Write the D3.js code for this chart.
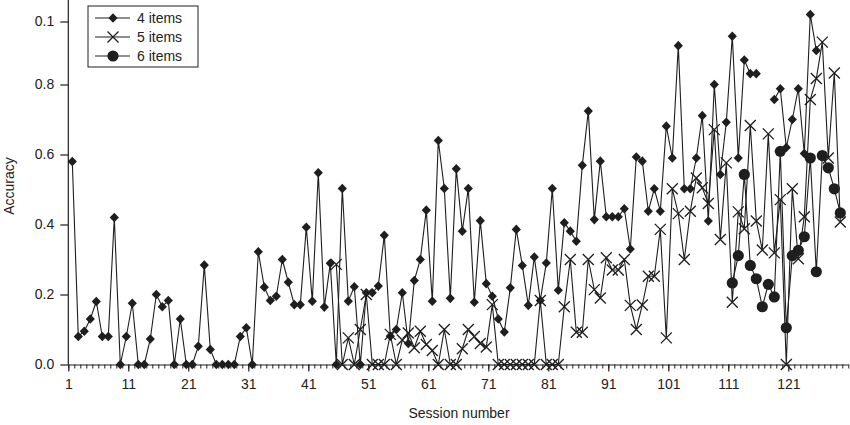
<!DOCTYPE html>
<html>
<head>
<meta charset="utf-8">
<script src="https://cdn.jsdelivr.net/npm/d3@7"></script>
<style>
  body { margin: 0; background: #fff; }
  text { font-family: "Liberation Sans", Arial, sans-serif; fill: #222; }
</style>
</head>
<body>
<div id="chart-area"></div>
<script>
// Accuracy per session (null = no point)
var start4 = 1, start5 = 45, start6 = 111;

var items4 = [
  0.58, 0.08, 0.095, 0.13, 0.18, 0.08, 0.08, 0.42, 0, 0.08,
  0.175, 0, 0, 0.073, 0.2, 0.165, 0.183, 0, 0.13, 0,
  0, 0.052, 0.284, 0.043, 0, 0, 0, 0, 0.08, 0.105,
  0, 0.322, 0.221, 0.183, 0.195, 0.30, 0.235, 0.171, 0.171, 0.392,
  0.181, 0.548, 0.164, 0.289, 0, 0.503, 0.181, 0.222, 0, 0.205,
  0.205, 0.224, 0.369, 0.081, 0.10, 0.205, 0.06, 0.24, 0.30, 0.441,
  0.181, 0.64, 0.503, 0.189, 0.559, 0.381, 0.503, 0.178, 0.411, 0.231,
  0.195, 0.13, 0.093, 0.219, 0.386, 0.283, 0.169, 0.307, 0.183, 0.29,
  0.503, 0.212, 0.405, 0.381, 0.352, 0.569, 0.724, 0.414, 0.581, 0.422,
  0.422, 0.422, 0.445, 0.33, 0.593, 0.581, 0.438, 0.502, 0.438, 0.681,
  0.59, 0.911, 0.502, 0.502, 0.59, 0.711, 0.41, 0.80, 0.543, 0.692,
  0.938, 0.59, 0.87, 0.831, 0.831, null, null, 0.757, 0.788, 0.62,
  0.70, 0.788, 0.603, 1.0, 0.897
];

var items5 = [
  0.286, 0, 0.076, 0, 0.10, 0.20,
  0, 0, 0, 0.086, 0, 0.07, 0.09, 0.048, 0.095, 0.057,
  0.04, 0, 0.10, 0, 0, 0.045, 0.10, 0.08, 0.06, 0.05,
  0.171, 0, 0, 0, 0, 0, 0, 0, 0.183, 0,
  0, 0, 0.165, 0.30, 0.092, 0.092, 0.30, 0.214, 0.19, 0.305,
  0.27, 0.27, 0.30, 0.169, 0.10, 0.17, 0.252, 0.252, 0.386, 0.076,
  0.502, 0.431, 0.30, 0.438, 0.533, 0.505, 0.46, 0.671, 0.357, 0.576,
  0.178, 0.436, 0.388, 0.683, 0.41, 0.327, 0.659, 0.319, 0.471, 0,
  0.502, 0.302, 0.422, 0.757, 0.817, 0.921, 0.59, 0.833, 0.407
];

var items6 = [
  0.233, 0.311, 0.543, 0.283, 0.245, 0.165, 0.229, 0.193, 0.609, 0.105,
  0.311, 0.326, 0.365, 0.59, 0.265, 0.597, 0.562, 0.502, 0.433
];

var legendLabels = ["4 items", "5 items", "6 items"];
var xTickValues = [1, 11, 21, 31, 41, 51, 61, 71, 81, 91, 101, 111, 121];
var yTickValues = [0, 0.2, 0.4, 0.6, 0.8, 0.98];
var yTickLabels = ["0.0", "0.2", "0.4", "0.6", "0.8", "0.1"];

var width = 850, height = 425;
var ink = "#1e1e1e";

var svg = d3.select("#chart-area").append("svg")
    .attr("width", width)
    .attr("height", height);

// axis scale: tick "1" sits at the left edge, last session slot at 131
var x = d3.scaleLinear().domain([1, 131]).range([68.3, 848.3]);
var y = d3.scaleLinear().domain([0, 1]).range([364.5, 14.5]);
// points are drawn between the tick marks, 2/3 of a step to the right
var shift = 2 / 3;

function toPoints(vals, start) {
    return vals.map(function(v, i) { return { s: start + i, v: v }; });
}
var series = [
    { name: legendLabels[0], pts: toPoints(items4, start4), marker: "diamond" },
    { name: legendLabels[1], pts: toPoints(items5, start5), marker: "cross" },
    { name: legendLabels[2], pts: toPoints(items6, start6), marker: "circle" }
];

// Y axis
var yAxisCall = d3.axisLeft(y)
    .tickValues(yTickValues)
    .tickSize(8)
    .tickPadding(6)
    .tickFormat(function(d, i) { return yTickLabels[i]; });
var yAxis = svg.append("g")
    .attr("class", "y axis")
    .attr("transform", "translate(" + x(1) + ",0)")
    .call(yAxisCall);
yAxis.select(".domain").remove();
yAxis.append("line")
    .attr("y1", y(0)).attr("y2", 0)
    .attr("stroke", ink).attr("stroke-width", 1.2);
yAxis.selectAll(".tick line").attr("stroke", ink).attr("stroke-width", 1.2);
yAxis.selectAll("text").attr("font-size", "14px").attr("fill", ink);

// X axis: minor ticks every session, labelled ticks every ten
var xMinor = d3.axisBottom(x)
    .tickValues(d3.range(1, 132))
    .tickSize(4)
    .tickSizeOuter(0)
    .tickFormat("");
var xm = svg.append("g")
    .attr("class", "x axis minor")
    .attr("transform", "translate(0," + y(0) + ")")
    .call(xMinor);
xm.select(".domain").attr("stroke", ink).attr("stroke-width", 1.2);
xm.selectAll(".tick line").attr("stroke", ink);

var xMajor = d3.axisBottom(x)
    .tickValues(xTickValues)
    .tickSize(7)
    .tickSizeOuter(0)
    .tickPadding(8)
    .tickFormat(d3.format("d"));
var xg = svg.append("g")
    .attr("class", "x axis")
    .attr("transform", "translate(0," + y(0) + ")")
    .call(xMajor);
xg.select(".domain").remove();
xg.selectAll(".tick line").attr("stroke", ink).attr("stroke-width", 1.2);
xg.selectAll("text").attr("font-size", "14px").attr("fill", ink);

// axis titles
svg.append("text")
    .attr("x", 459)
    .attr("y", 418)
    .attr("font-size", "14px")
    .attr("text-anchor", "middle")
    .text("Session number");

svg.append("text")
    .attr("x", -186)
    .attr("y", 14)
    .attr("font-size", "14px")
    .attr("text-anchor", "middle")
    .attr("transform", "rotate(-90)")
    .text("Accuracy");

// markers
function drawMarker(sel, type) {
    if (type === "diamond") {
        sel.append("path")
            .attr("d", "M0,-4.8L4.6,0L0,4.8L-4.6,0Z")
            .attr("fill", ink);
    } else if (type === "cross") {
        sel.append("path")
            .attr("d", "M-5.5,-5.5L5.5,5.5M-5.5,5.5L5.5,-5.5")
            .attr("fill", "none")
            .attr("stroke", ink)
            .attr("stroke-width", 1.3);
    } else {
        sel.append("circle")
            .attr("r", 5.6)
            .attr("fill", ink);
    }
}

var line = d3.line()
    .defined(function(d) { return d.v !== null; })
    .x(function(d) { return x(d.s + shift); })
    .y(function(d) { return y(d.v); });

series.forEach(function(sr) {
    var g = svg.append("g").attr("class", "series");
    g.append("path")
        .datum(sr.pts)
        .attr("d", line)
        .attr("fill", "none")
        .attr("stroke", ink)
        .attr("stroke-width", 1.1);

    var marks = g.selectAll("g.mark")
        .data(sr.pts.filter(function(d) { return d.v !== null; }))
        .enter().append("g")
        .attr("class", "mark")
        .attr("transform", function(d) {
            return "translate(" + x(d.s + shift) + "," + y(d.v) + ")";
        });
    drawMarker(marks, sr.marker);
});

// legend
var legend = svg.append("g").attr("transform", "translate(88,6)");
legend.append("rect")
    .attr("width", 110)
    .attr("height", 61)
    .attr("fill", "#fff")
    .attr("stroke", ink)
    .attr("stroke-width", 1);

var rows = legend.selectAll("g.row")
    .data(series)
    .enter().append("g")
    .attr("class", "row")
    .attr("transform", function(d, i) { return "translate(0," + (12 + i * 19) + ")"; });

rows.append("line")
    .attr("x1", 7).attr("x2", 42)
    .attr("stroke", ink).attr("stroke-width", 1.1);
rows.each(function(d) {
    var m = d3.select(this).append("g").attr("transform", "translate(25,0)");
    drawMarker(m, d.marker);
});
rows.append("text")
    .attr("x", 49)
    .attr("y", 5)
    .attr("font-size", "14px")
    .text(function(d) { return d.name; });
</script>
</body>
</html>
